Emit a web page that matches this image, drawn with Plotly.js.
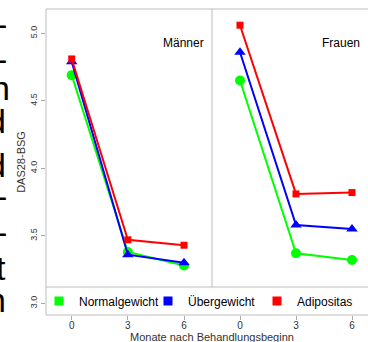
<!DOCTYPE html>
<html>
<head>
<meta charset="utf-8">
<script src="https://cdn.plot.ly/plotly-3.0.1.min.js"></script>
<style>
html,body{margin:0;padding:0;background:#fff;}
#chart{width:368px;height:342px;}
</style>
</head>
<body>
<div id="chart"></div>
<script>
// ---- data ----
const months = [0, 3, 6];
const monthLabels = ['0', '3', '6'];
const groups = ['Normalgewicht', 'Übergewicht', 'Adipositas'];
const panels = ['Männer', 'Frauen'];
const maennerNormal = [4.69, 3.38, 3.28];
const maennerUeber  = [4.79, 3.36, 3.30];
const maennerAdip   = [4.81, 3.47, 3.43];
const frauenNormal  = [4.65, 3.37, 3.32];
const frauenUeber   = [4.86, 3.58, 3.55];
const frauenAdip    = [5.06, 3.81, 3.82];
const yTicks = [3.0, 3.5, 4.0, 4.5, 5.0];
const yTickLabels = ['3.0', '3.5', '4.0', '4.5', '5.0'];
const sideText = ['-', '-', 'n', 'd', 'd', '-', '-', 't', 'n'];

// ---- styles ----
const colors = ['#00ff00', '#0000ff', '#ff0000'];
const symbols = ['circle', 'triangle-up', 'square'];
const sizes = [10, 10, 7];
const FONT = 'Liberation Sans, Arial, sans-serif';

const W = 368, H = 342, L = 46, T = 9, B = 27, R = 0;
const pw = W - L - R, ph = H - T - B;
const px = v => (v - L) / pw;
const py = v => (H - B - v) / ph;
const split = px(212);

const series = [
  [maennerNormal, maennerUeber, maennerAdip],
  [frauenNormal, frauenUeber, frauenAdip]
];

const traces = [];
series.forEach((panel, p) => {
  panel.forEach((vals, g) => {
    traces.push({
      x: months, y: vals, type: 'scatter', mode: 'lines+markers',
      xaxis: p === 0 ? 'x' : 'x2', yaxis: 'y',
      line: {color: colors[g], width: 2},
      marker: {color: colors[g], symbol: symbols[g], size: sizes[g]},
      showlegend: false, hoverinfo: 'skip', cliponaxis: false
    });
  });
});
// legend entries (one legend per group for exact placement)
const legendIds = ['legend', 'legend2', 'legend3'];
groups.forEach((name, g) => {
  traces.push({
    x: [null], y: [null], type: 'scatter', mode: 'markers', name: name,
    xaxis: 'x', yaxis: 'y', legend: legendIds[g],
    marker: {color: colors[g], symbol: 'square', size: 9}, showlegend: true
  });
});

const axisCommon = {
  tickvals: months, ticktext: monthLabels, ticks: 'outside', ticklen: 4,
  tickcolor: '#aaaaaa', tickwidth: 1, showgrid: false, zeroline: false,
  showline: false, tickfont: {size: 10, color: '#333', family: FONT},
  ticklabelstandoff: -3, anchor: 'y', fixedrange: true
};

const gray = '#bdbdbd';
const shapes = [
  {type: 'line', xref: 'paper', yref: 'paper', x0: 0, x1: 0, y0: 0, y1: 1, line: {color: gray, width: 1}},
  {type: 'line', xref: 'paper', yref: 'paper', x0: 0, x1: 1, y0: 1, y1: 1, line: {color: gray, width: 1}},
  {type: 'line', xref: 'paper', yref: 'paper', x0: 0, x1: 1, y0: 0, y1: 0, line: {color: gray, width: 1}},
  {type: 'line', xref: 'paper', yref: 'paper', x0: split, x1: split, y0: py(287), y1: 1, line: {color: gray, width: 1}},
  {type: 'line', xref: 'paper', yref: 'paper', x0: 0, x1: 1, y0: py(287), y1: py(287), line: {color: gray, width: 1}}
];

const annotations = [
  {text: panels[0], xref: 'paper', yref: 'paper', x: px(206), y: py(43), xanchor: 'right', yanchor: 'middle', showarrow: false, font: {size: 12, color: '#000', family: FONT}},
  {text: panels[1], xref: 'paper', yref: 'paper', x: px(362), y: py(43), xanchor: 'right', yanchor: 'middle', showarrow: false, font: {size: 12, color: '#000', family: FONT}},
  {text: 'Monate nach Behandlungsbeginn', xref: 'paper', yref: 'paper', x: px(212), y: py(337), xanchor: 'center', yanchor: 'middle', showarrow: false, font: {size: 11, color: '#333', family: FONT}}
];
const sideBase = [36, 71, 100, 133, 177, 208, 244, 280, 312];
const sideRight = [9, 9, 12, 8, 8, 9, 9, 8, 8];
sideText.forEach((t, i) => {
  annotations.push({
    text: t, xref: 'paper', yref: 'paper', x: px(sideRight[i]), y: py(sideBase[i] - 12),
    xanchor: 'right', yanchor: 'middle', showarrow: false,
    font: {size: 34, color: '#000', family: FONT}
  });
});

const legendBase = {
  orientation: 'h', y: py(301), xanchor: 'left', yanchor: 'middle',
  bgcolor: 'rgba(0,0,0,0)', font: {size: 12, color: '#000', family: FONT},
  itemclick: false, itemdoubleclick: false
};
const legendSymbolX = [59, 168, 277];

const layout = {
  width: W, height: H,
  margin: {l: L, r: R, t: T, b: B, pad: 0},
  paper_bgcolor: '#fff', plot_bgcolor: '#fff',
  font: {family: FONT},
  showlegend: true,
  legend: Object.assign({}, legendBase, {x: px(legendSymbolX[0] - 20)}),
  legend2: Object.assign({}, legendBase, {x: px(legendSymbolX[1] - 20)}),
  legend3: Object.assign({}, legendBase, {x: px(legendSymbolX[2] - 20)}),
  xaxis: Object.assign({}, axisCommon, {domain: [0, split], range: [-1.373, 7.496]}),
  xaxis2: Object.assign({}, axisCommon, {domain: [split, 1], range: [-1.5, 6.857]}),
  yaxis: {
    range: [2.913, 5.18], tickvals: yTicks, ticktext: yTickLabels, tickangle: -90,
    ticks: 'outside', ticklen: 4, tickcolor: '#aaaaaa', showgrid: false, zeroline: false,
    showline: false, tickfont: {size: 9, color: '#333', family: FONT}, fixedrange: true,
    title: {text: 'DAS28-BSG', font: {size: 11, color: '#333', family: FONT}, standoff: 1}
  },
  shapes: shapes,
  annotations: annotations
};

Plotly.newPlot('chart', traces, layout, {displayModeBar: false, staticPlot: true});
</script>
</body>
</html>
